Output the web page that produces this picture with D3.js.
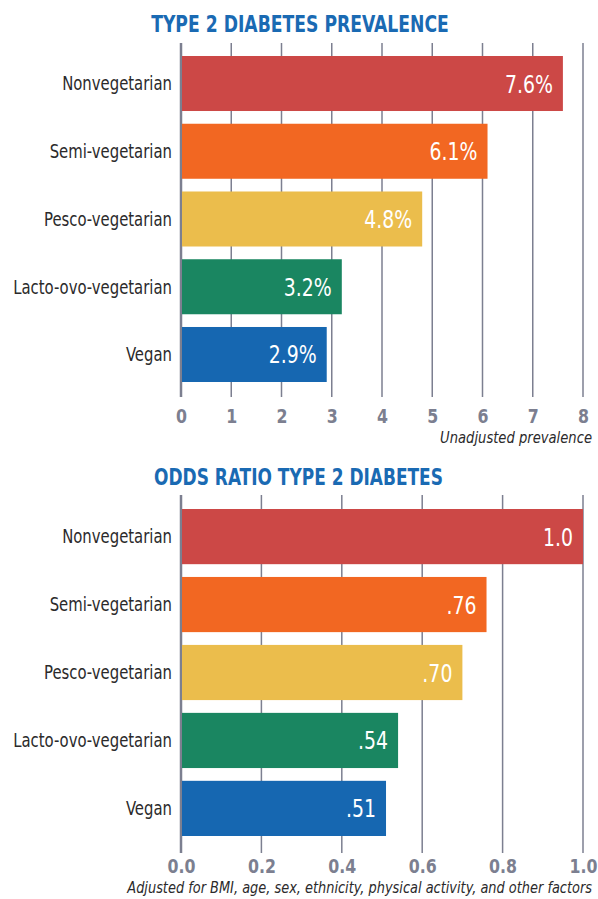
<!DOCTYPE html>
<html>
<head>
<meta charset="utf-8">
<script src="https://cdn.jsdelivr.net/npm/d3@7"></script>
<style>
  body { margin: 0; background: #fff; }
  svg { display: block; }
</style>
</head>
<body>
<div id="chart"></div>
<script>
// dimensions
const width = 598;
const height = 899;

// data
const categories = ["Nonvegetarian", "Semi-vegetarian", "Pesco-vegetarian", "Lacto-ovo-vegetarian", "Vegan"];
const barColors = ["#cc4846", "#f26722", "#ebbd4c", "#1a8661", "#1667b1"];
const prevalence = [7.6, 6.1, 4.8, 3.2, 2.9];
const prevalenceLabels = ["7.6%", "6.1%", "4.8%", "3.2%", "2.9%"];
const prevalenceTicks = [0, 1, 2, 3, 4, 5, 6, 7, 8];
const oddsRatio = [1.0, 0.76, 0.70, 0.54, 0.51];
const oddsLabels = ["1.0", ".76", ".70", ".54", ".51"];
const oddsTicks = [0, 0.2, 0.4, 0.6, 0.8, 1.0];

// police condensée (pas de web font)
const font = "'DejaVu Sans Condensed', 'Liberation Sans Narrow', sans-serif";
const gridColor = "#7c7f90";
const textColor = "#2b2a2b";

const svg = d3.select("#chart")
    .append("svg")
    .attr("width", width)
    .attr("height", height);

// texte compressé horizontalement pour tenir dans une largeur donnée
function fitText(sel, right, yPos, targetWidth) {
    const natural = sel.node().getComputedTextLength();
    const k = Math.min(1, targetWidth / natural);
    sel.attr("transform", `translate(${right},${yPos}) scale(${k},1)`);
}

// --- un panneau ---
function drawPanel(p) {
    const g = svg.append("g");

    const x = d3.scaleLinear()
        .domain(p.domain)
        .range([181, 583]);

    const y = d3.scaleBand()
        .domain(categories)
        .range([p.barTop, p.barBottom])
        .paddingInner(0.188)
        .paddingOuter(0);

    // titre
    const title = g.append("text")
        .attr("text-anchor", "middle")
        .style("font-family", font)
        .style("font-weight", "bold")
        .style("font-size", "23px")
        .attr("fill", "#1a6ab3")
        .text(p.title);
    fitText(title, p.titleX + p.titleWidth / 2, p.titleY, p.titleWidth);

    // grille
    g.selectAll("line.grid")
        .data(p.ticks)
        .join("line")
        .attr("class", "grid")
        .attr("x1", d => x(d))
        .attr("x2", d => x(d))
        .attr("y1", p.gridTop)
        .attr("y2", p.gridBottom)
        .attr("stroke", gridColor)
        .attr("stroke-width", (d, i) => i === 0 ? 2.5 : 1.5);

    // barres
    g.selectAll("rect.bar")
        .data(p.values)
        .join("rect")
        .attr("class", "bar")
        .attr("x", x(p.domain[0]) + 1)
        .attr("y", (d, i) => y(categories[i]))
        .attr("width", d => x(d) - x(p.domain[0]) - 1)
        .attr("height", y.bandwidth())
        .attr("fill", (d, i) => barColors[i]);

    // valeurs dans les barres
    g.selectAll("text.val")
        .data(p.values)
        .join("text")
        .attr("class", "val")
        .attr("transform", (d, i) => `translate(${x(d) - 10},${y(categories[i]) + y.bandwidth() / 2}) scale(0.84,1)`)
        .attr("dy", "0.36em")
        .attr("text-anchor", "end")
        .style("font-family", font)
        .style("font-size", "25px")
        .attr("fill", "#fff")
        .text((d, i) => p.labels[i]);

    // catégories
    g.selectAll("text.cat")
        .data(categories)
        .join("text")
        .attr("class", "cat")
        .attr("transform", d => `translate(172,${y(d) + y.bandwidth() / 2}) scale(0.87,1)`)
        .attr("dy", "0.36em")
        .attr("text-anchor", "end")
        .style("font-family", font)
        .style("font-size", "19px")
        .attr("fill", textColor)
        .text(d => d);

    // axe
    const axis = d3.axisBottom(x)
        .tickValues(p.ticks)
        .tickSize(0)
        .tickPadding(0)
        .tickFormat(p.format);

    const ax = g.append("g")
        .attr("transform", `translate(0,${p.tickY})`)
        .call(axis);
    ax.select(".domain").remove();
    ax.selectAll("text")
        .attr("y", 0)
        .attr("dy", 0)
        .attr("transform", "scale(0.9,1)")
        .style("font-family", font)
        .style("font-weight", "bold")
        .style("font-size", "19.5px")
        .attr("fill", gridColor);

    // note
    const note = g.append("text")
        .attr("text-anchor", "end")
        .style("font-family", font)
        .style("font-style", "italic")
        .style("font-size", "16px")
        .attr("fill", textColor)
        .text(p.note);
    fitText(note, 592, p.noteY, p.noteWidth);
}

drawPanel({
    title: "TYPE 2 DIABETES PREVALENCE",
    titleX: 151, titleY: 32, titleWidth: 298,
    gridTop: 43, barTop: 56, barBottom: 382, gridBottom: 397,
    tickY: 423, noteY: 443, noteWidth: 152,
    domain: [0, 8],
    ticks: prevalenceTicks,
    values: prevalence,
    labels: prevalenceLabels,
    format: d3.format("d"),
    note: "Unadjusted prevalence"
});

drawPanel({
    title: "ODDS RATIO TYPE 2 DIABETES",
    titleX: 154, titleY: 485, titleWidth: 289,
    gridTop: 495, barTop: 509, barBottom: 836, gridBottom: 853,
    tickY: 873, noteY: 893, noteWidth: 465,
    domain: [0, 1],
    ticks: oddsTicks,
    values: oddsRatio,
    labels: oddsLabels,
    format: d3.format(".1f"),
    note: "Adjusted for BMI, age, sex, ethnicity, physical activity, and other factors"
});
</script>
</body>
</html>
